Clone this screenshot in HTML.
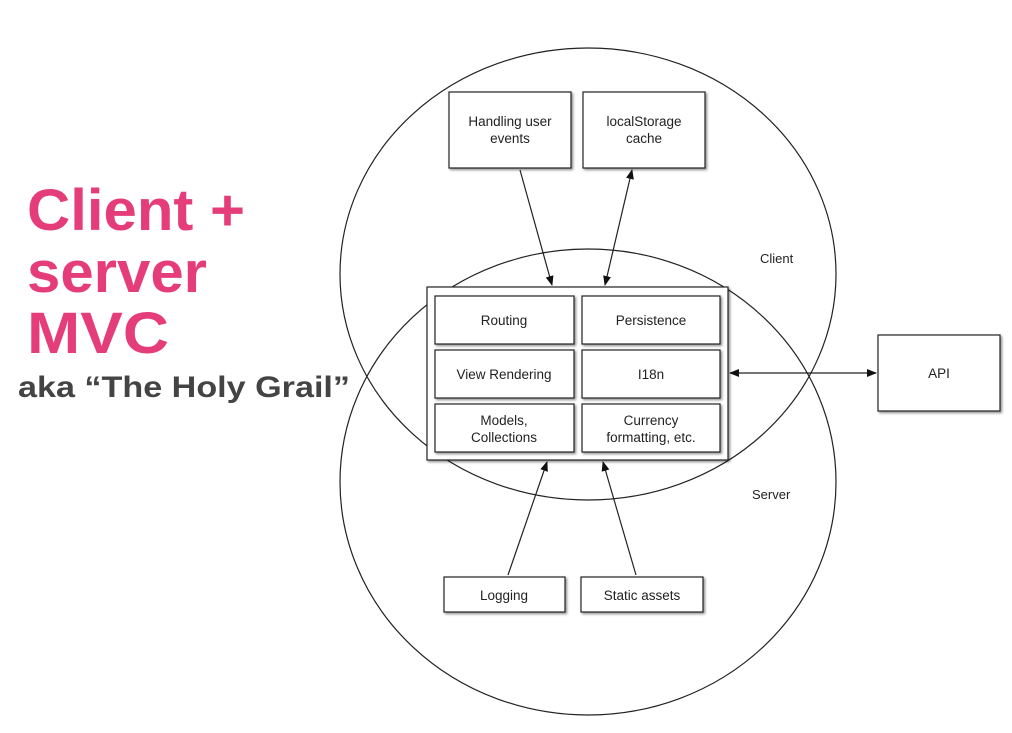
<!DOCTYPE html>
<html><head><meta charset="utf-8"><style>
html,body{margin:0;padding:0;background:#fff;}
svg{display:block;}
text{font-family:"Liberation Sans",sans-serif;}
</style></head><body>
<svg width="1012" height="733" viewBox="0 0 1012 733" xmlns="http://www.w3.org/2000/svg">
<defs>
<marker id="ah" markerWidth="10" markerHeight="8" refX="9" refY="4" orient="auto-start-reverse" markerUnits="userSpaceOnUse">
<path d="M0,0 L10,4 L0,8 z" fill="#111"/></marker>
<filter id="sh" x="-10%" y="-10%" width="130%" height="130%"><feDropShadow dx="1.5" dy="1.5" stdDeviation="1.2" flood-color="#000" flood-opacity="0.45"/></filter>
</defs>
<g fill="#e53d7a" font-weight="bold" font-size="58">
<text x="27" y="230" textLength="218" lengthAdjust="spacingAndGlyphs">Client +</text>
<text x="27" y="292" textLength="180" lengthAdjust="spacingAndGlyphs">server</text>
<text x="27" y="353" textLength="142" lengthAdjust="spacingAndGlyphs">MVC</text>
</g>
<text x="18" y="397" font-size="30" font-weight="bold" fill="#444" textLength="332" lengthAdjust="spacingAndGlyphs">aka “The Holy Grail”</text>

<g fill="none" stroke="#222" stroke-width="1.2">
<ellipse cx="588" cy="274" rx="248" ry="226"/>
<ellipse cx="588" cy="482" rx="248" ry="233"/>
</g>
<text x="760" y="263" font-size="13" fill="#222">Client</text>
<text x="752" y="499" font-size="13" fill="#222">Server</text>

<g fill="#fff" stroke="#222" stroke-width="1.2" filter="url(#sh)">
<rect x="449" y="92" width="122" height="76"/>
<rect x="583" y="92" width="122" height="76"/>
<rect x="427" y="287" width="301" height="173"/>
<rect x="878" y="335" width="122" height="76"/>
<rect x="444" y="577" width="121" height="35"/>
<rect x="581" y="577" width="122" height="35"/>
</g>
<g fill="#fff" stroke="#222" stroke-width="1.2" filter="url(#sh)">
<rect x="435" y="296" width="139" height="48"/>
<rect x="582" y="296" width="138" height="48"/>
<rect x="435" y="350" width="139" height="48"/>
<rect x="582" y="350" width="138" height="48"/>
<rect x="435" y="404" width="139" height="48"/>
<rect x="582" y="404" width="138" height="48"/>
</g>
<g font-size="13.5" fill="#222" text-anchor="middle">
<text x="510" y="126">Handling user</text><text x="510" y="143">events</text>
<text x="644" y="126">localStorage</text><text x="644" y="143">cache</text>
<text x="504" y="325">Routing</text>
<text x="651" y="325">Persistence</text>
<text x="504" y="379">View Rendering</text>
<text x="651" y="379">I18n</text>
<text x="504" y="425">Models,</text><text x="504" y="442">Collections</text>
<text x="651" y="425">Currency</text><text x="651" y="442">formatting, etc.</text>
<text x="939" y="378">API</text>
<text x="504" y="600">Logging</text>
<text x="642" y="600">Static assets</text>
</g>
<g stroke="#222" stroke-width="1.2" fill="none">
<line x1="520" y1="170" x2="552" y2="285" marker-end="url(#ah)"/>
<line x1="605" y1="285" x2="632" y2="170" marker-start="url(#ah)" marker-end="url(#ah)"/>
<line x1="730" y1="373" x2="876" y2="373" marker-start="url(#ah)" marker-end="url(#ah)"/>
<line x1="508" y1="575" x2="547" y2="462" marker-end="url(#ah)"/>
<line x1="636" y1="575" x2="603" y2="462" marker-end="url(#ah)"/>
</g>
</svg>
</body></html>
